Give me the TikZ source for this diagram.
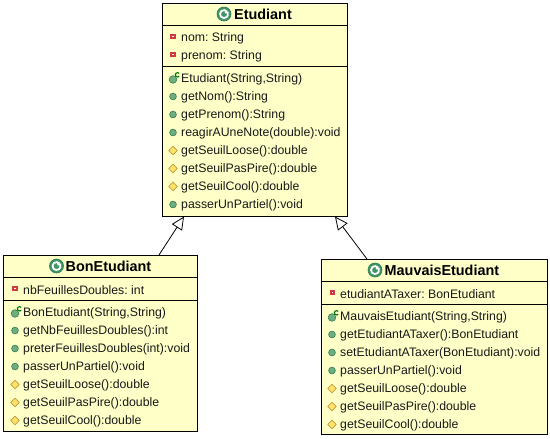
\documentclass[tikz,border=0pt]{standalone}
\usepackage{fontspec}
\setmainfont{Liberation Sans}
\usetikzlibrary{arrows.meta}
\definecolor{boxfill}{HTML}{FFFFC8}
\definecolor{okfill}{HTML}{6FAE7F}
\definecolor{okline}{HTML}{2F7D52}
\definecolor{diafill}{HTML}{FFE26A}
\definecolor{dialine}{HTML}{B8892A}
\definecolor{redline}{HTML}{D0393F}
\definecolor{classg}{HTML}{3F9565}
\tikzset{
  x=1pt,y=-1pt,
  classbox/.style={draw=black,line width=1pt,fill=boxfill,inner sep=0pt,anchor=north west},
  rowtext/.style={anchor=west,inner sep=0pt,yshift=-3.5pt,font=\frenchspacing\fontsize{12.3}{14}\selectfont,text=black!90},
  titletext/.style={anchor=west,inner sep=0pt,font=\fontsize{14.4}{16}\selectfont\bfseries,text=black},
  sepline/.style={black,line width=1pt},
  inherit/.style={black,line width=.8pt,-{Triangle[open,fill=white,length=13pt,width=12pt,line width=.8pt]}},
}
% icons
\newcommand{\iconpub}[2]{\fill[okfill,draw=okline,line width=.6pt] (#1,#2+2.5) circle (3.4pt);}
\newcommand{\iconprot}[2]{\fill[diafill,draw=dialine,line width=.6pt] (#1-4.3,#2+2.5) -- (#1,#2-1.8) -- (#1+4.3,#2+2.5) -- (#1,#2+6.8) -- cycle;}
\newcommand{\iconpriv}[2]{\fill[white,draw=redline,line width=2pt] (#1-1.9,#2+.6) rectangle (#1+1.9,#2+4.4);}
\newcommand{\iconctor}[2]{\fill[okfill,draw=okline,line width=.6pt] (#1,#2+3.5) circle (3.8pt);
  \draw[green!45!black,line width=1.1pt] (#1+6.2,#2-2.6) arc (40:320:2.2pt);}
\newcommand{\iconclass}[2]{\fill[classg,draw=okline,line width=.6pt] (#1,#2) circle (7pt);
  \draw[white,line width=1.8pt] (#1+3.1,#2-2.5) arc (40:340:4pt) -- ++(0,-3) -- ++(-2.8,0);}
\begin{document}
\begin{tikzpicture}
\useasboundingbox (0,0) rectangle (550,439);
% boxes
\node[classbox,minimum width=185pt,minimum height=213pt] (etud) at (162,3) {};
\node[classbox,minimum width=194pt,minimum height=176pt] (bon) at (3,255) {};
\node[classbox,minimum width=226pt,minimum height=175pt] (mauv) at (320.5,259) {};
% Etudiant
\draw[sepline] (162,25) -- (347,25);
\draw[sepline] (162,66) -- (347,66);
\iconclass{224}{14}
\node[titletext] (etudt) at (234,14) {Etudiant};
\iconpriv{173}{34}\node[rowtext] (e1) at (181,35) {nom: String};
\iconpriv{173}{52}\node[rowtext] (e2) at (181,53) {prenom: String};
\iconctor{173}{76}\node[rowtext] (e3) at (181,76) {Etudiant(String,String)};
\iconpub{173}{94}\node[rowtext] (e4) at (181,94) {getNom():String};
\iconpub{173}{112}\node[rowtext] (e5) at (181,112) {getPrenom():String};
\iconpub{173}{130}\node[rowtext] (e6) at (181,130) {reagirAUneNote(double):void};
\iconprot{173}{148}\node[rowtext] (e7) at (181,148) {getSeuilLoose():double};
\iconprot{173}{166}\node[rowtext] (e8) at (181,166) {getSeuilPasPire():double};
\iconprot{173}{184}\node[rowtext] (e9) at (181,184) {getSeuilCool():double};
\iconpub{173}{202}\node[rowtext] (e10) at (181,202) {passerUnPartiel():void};
% BonEtudiant
\draw[sepline] (3,277.5) -- (197,277.5);
\draw[sepline] (3,300) -- (197,300);
\iconclass{56.5}{266}
\node[titletext] (bont) at (65.5,266) {BonEtudiant};
\iconpriv{15}{286}\node[rowtext] (b1) at (23,287) {nbFeuillesDoubles: int};
\iconctor{15}{310}\node[rowtext] (b2) at (23,310) {BonEtudiant(String,String)};
\iconpub{15}{328}\node[rowtext] (b3) at (23,328) {getNbFeuillesDoubles():int};
\iconpub{15}{346}\node[rowtext] (b4) at (23,346) {preterFeuillesDoubles(int):void};
\iconpub{15}{364}\node[rowtext] (b5) at (23,364) {passerUnPartiel():void};
\iconprot{15}{382}\node[rowtext] (b6) at (23,382) {getSeuilLoose():double};
\iconprot{15}{400}\node[rowtext] (b7) at (23,400) {getSeuilPasPire():double};
\iconprot{15}{418}\node[rowtext] (b8) at (23,418) {getSeuilCool():double};
% MauvaisEtudiant
\draw[sepline] (320.5,281) -- (546.5,281);
\draw[sepline] (320.5,304) -- (546.5,304);
\iconclass{375}{270}
\node[titletext] (mauvt) at (384.5,270) {MauvaisEtudiant};
\iconpriv{332.5}{290}\node[rowtext] (m1) at (340,291) {etudiantATaxer: BonEtudiant};
\iconctor{332}{314}\node[rowtext] (m2) at (340,314) {MauvaisEtudiant(String,String)};
\iconpub{332}{332}\node[rowtext] (m3) at (340,332) {getEtudiantATaxer():BonEtudiant};
\iconpub{332}{350}\node[rowtext] (m4) at (340,350) {setEtudiantATaxer(BonEtudiant):void};
\iconpub{332}{368}\node[rowtext] (m5) at (340,368) {passerUnPartiel():void};
\iconprot{332}{386}\node[rowtext] (m6) at (340,386) {getSeuilLoose():double};
\iconprot{332}{404}\node[rowtext] (m7) at (340,404) {getSeuilPasPire():double};
\iconprot{332}{422}\node[rowtext] (m8) at (340,422) {getSeuilCool():double};
% connectors
\coordinate (tipb) at (184,216.5);
\coordinate (tipm) at (335,216.5);
\coordinate (fromb) at (159,255);
\coordinate (fromm) at (367,259);
\draw[inherit] (fromb) -- (tipb);
\draw[inherit] (fromm) -- (tipm);
\end{tikzpicture}
\end{document}
